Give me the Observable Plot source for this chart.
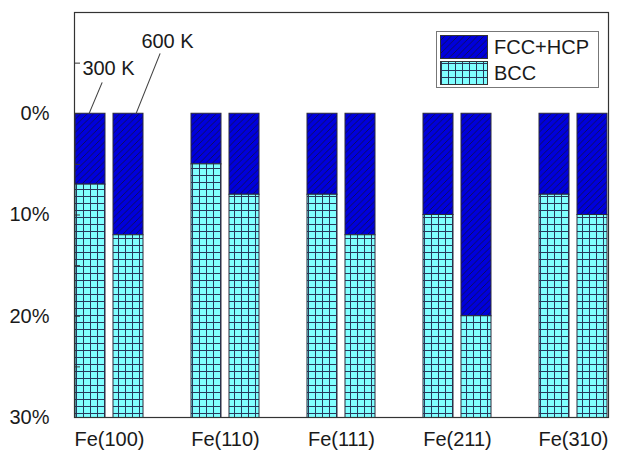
<!DOCTYPE html>
<html>
<head>
<meta charset="utf-8">
<script src="https://cdn.jsdelivr.net/npm/d3@7"></script>
<script src="https://cdn.jsdelivr.net/npm/@observablehq/plot@0.6"></script>
<style>
  html, body { margin: 0; padding: 0; background: #fff; }
  #chart svg { display: block; }
</style>
</head>
<body>
<div id="chart"></div>
<script>
// ---- data ----
const groups = ["Fe(100)", "Fe(110)", "Fe(111)", "Fe(211)", "Fe(310)"];
const temps = ["300 K", "600 K"];
const phases = ["FCC+HCP", "BCC"];
const fccHcp300 = [7, 5, 8, 10, 8];
const fccHcp600 = [12, 8, 12, 20, 10];
const bcc300 = [93, 95, 92, 90, 92];
const bcc600 = [88, 92, 88, 80, 90];
const yTickLabels = [0, 10, 20, 30];
const yTickMarks = [-5, 0, 5, 10, 15, 20, 25];

const rows = [];
groups.forEach((g, i) => {
  rows.push({group: g, temp: "300 K", phase: "FCC+HCP", value: fccHcp300[i]});
  rows.push({group: g, temp: "300 K", phase: "BCC", value: bcc300[i]});
  rows.push({group: g, temp: "600 K", phase: "FCC+HCP", value: fccHcp600[i]});
  rows.push({group: g, temp: "600 K", phase: "BCC", value: bcc600[i]});
});

const annotations = [
  {g: "Fe(100)", t: "300 K"},
  {g: "Fe(100)", t: "600 K"}
];

const spike = {draw(context, l) { context.moveTo(0, 0); context.lineTo(0, -l); }};

const svg = Plot.plot({
  width: 619,
  height: 450,
  marginLeft: 68,
  marginRight: 5,
  marginTop: 12,
  marginBottom: 33,
  style: {fontFamily: "'Liberation Sans', Arial, sans-serif", fontSize: "20px", color: "#1a1a1a", background: "#fff"},
  fx: {domain: groups, paddingInner: 0.4, paddingOuter: 0.043, label: null},
  x: {domain: temps, paddingInner: 0.2, paddingOuter: 0, axis: null},
  y: {domain: [-10, 30], reverse: true, label: null},
  color: {domain: phases, range: ["url(#hatchFcc)", "url(#gridBcc)"]},
  marks: [
    Plot.barY(rows, Plot.stackY({
      fx: "group", x: "temp", y: "value", fill: "phase",
      stroke: "#2a2a3a", strokeWidth: 1, clip: true
    })),
    Plot.axisY({ticks: yTickMarks, tickSize: -6, tickFormat: () => "", label: null, stroke: "#333"}),
    Plot.axisY({ticks: yTickLabels, tickSize: 0, tickPadding: 25, tickFormat: d => d + "%", label: null, fontSize: 20}),
    Plot.axisFx({anchor: "bottom", tickSize: 0, tickPadding: 14, label: null, fontSize: 20}),
    Plot.text(annotations, {fx: "g", x: "t", y: -4.5, text: "t", dx: 18, fontSize: 20, filter: d => d.t === "300 K"}),
    Plot.text(annotations, {fx: "g", x: "t", y: -7.1, text: "t", dx: 39, fontSize: 20, filter: d => d.t === "600 K"}),
    Plot.vector(annotations, {fx: "g", x: "t", y: 0, dx: -1.5, length: 33.6, rotate: 22.8, anchor: "start", shape: spike, stroke: "#444", strokeWidth: 1, filter: d => d.t === "300 K"}),
    Plot.vector(annotations, {fx: "g", x: "t", y: 0, dx: 7.5, length: 64.6, rotate: 21.8, anchor: "start", shape: spike, stroke: "#444", strokeWidth: 1, filter: d => d.t === "600 K"}),
    Plot.frame({facet: "super", stroke: "#333", strokeWidth: 1.2})
  ]
});

// patterns
const root = d3.select(svg);
const defs = root.insert("defs", ":first-child");
const hatch = defs.append("pattern").attr("id", "hatchFcc").attr("patternUnits", "userSpaceOnUse")
  .attr("width", 6.5).attr("height", 6.5);
hatch.append("rect").attr("width", 6.5).attr("height", 6.5).attr("fill", "#0000dc");
hatch.append("path").attr("d", "M-1,1L1,-1M0,6.5L6.5,0M5.5,7.5L7.5,5.5")
  .attr("stroke", "#101040").attr("stroke-width", 0.8);
const grid = defs.append("pattern").attr("id", "gridBcc").attr("patternUnits", "userSpaceOnUse")
  .attr("width", 7).attr("height", 7);
grid.append("rect").attr("width", 7).attr("height", 7).attr("fill", "#80ffff");
grid.append("path").attr("d", "M0,0.5H7M0.5,0V7").attr("stroke", "#27385a").attr("stroke-width", 1);

// legend inside the frame
const lg = root.append("g").attr("class", "legend").attr("text-anchor", "start");
lg.append("rect").attr("x", 436.5).attr("y", 31.5).attr("width", 162).attr("height", 56)
  .attr("fill", "#fff").attr("stroke", "#777");
phases.forEach((p, i) => {
  lg.append("rect").attr("x", 440.5).attr("y", 35.5 + i * 26).attr("width", 47).attr("height", 23)
    .attr("fill", i === 0 ? "url(#hatchFcc)" : "url(#gridBcc)").attr("stroke", "#333");
  lg.append("text").attr("x", 494).attr("y", 47 + i * 26).attr("dy", "0.35em")
    .attr("font-size", 20).attr("fill", "#1a1a1a").attr("text-anchor", "start").text(p);
});

document.getElementById("chart").appendChild(svg);
</script>
</body>
</html>
